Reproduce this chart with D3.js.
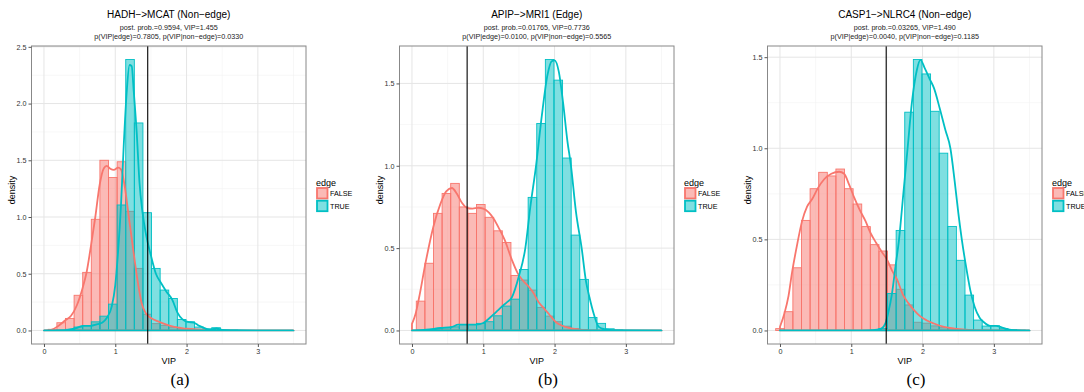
<!DOCTYPE html>
<html>
<head>
<meta charset="utf-8">
<script type="text/javascript" src="https://d3js.org/d3.v7.min.js"></script>
<style>
  body { margin: 0; background: #fff; }
  svg { display: block; font-family: "Liberation Sans", Arial, sans-serif; }
</style>
</head>
<body>
<svg width="1084" height="392"></svg>
<script type="text/javascript">
// ---- data ----
const titles = ["HADH\u2212>MCAT (Non\u2212edge)", "APIP\u2212>MRI1 (Edge)", "CASP1\u2212>NLRC4 (Non\u2212edge)"];
const subLine1 = ["post. prob.=0.9594, VIP=1.455", "post. prob.=0.01765, VIP=0.7736", "post. prob.=0.03265, VIP=1.490"];
const subLine2 = ["p(VIP|edge)=0.7805, p(VIP|non\u2212edge)=0.0330",
                  "p(VIP|edge)=0.0100, p(VIP|non\u2212edge)=0.5565",
                  "p(VIP|edge)=0.0040, p(VIP|non\u2212edge)=0.1185"];
const captions = ["(a)", "(b)", "(c)"];
const vipValues = [1.455, 0.7736, 1.490];
const xTicks = [0, 1, 2, 3];
const yTicksA = [0, 0.5, 1, 1.5, 2, 2.5];
const yTicksB = [0, 0.5, 1, 1.5];
const yTicksC = [0, 0.5, 1, 1.5];
const groups = ["FALSE", "TRUE"];

// 30 bins over [0, 3.5] (bin centres)
const binWidth = 3.5 / 29;
const binCenters = d3.range(30).map(k => k * binWidth);

// histogram densities, one value per bin
const histFalseA = [0, 0.01, 0.068, 0.106, 0.31, 0.512, 0.98, 1.5, 1.348, 1.487, 1.05, 0.547, 0.143, 0.06, 0.045, 0.03, 0.015, 0.01, 0.005, 0.004, 0.002, 0, 0, 0, 0, 0, 0, 0, 0, 0];
const histTrueA  = [0, 0.002, 0.005, 0.01, 0.03, 0.044, 0.076, 0.126, 0.232, 1.106, 2.388, 1.829, 1.038, 0.547, 0.356, 0.282, 0.097, 0.076, 0.03, 0.013, 0.024, 0.005, 0.003, 0, 0, 0, 0, 0, 0, 0];
const histFalseB = [0, 0.178, 0.408, 0.711, 0.832, 0.893, 0.75, 0.711, 0.765, 0.687, 0.605, 0.534, 0.334, 0.306, 0.245, 0.14, 0.087, 0.053, 0.026, 0.012, 0.005, 0.002, 0, 0, 0, 0, 0, 0, 0, 0];
const histTrueB  = [0, 0.003, 0.005, 0.01, 0.016, 0.022, 0.036, 0.036, 0.043, 0.053, 0.089, 0.148, 0.19, 0.37, 0.808, 1.257, 1.645, 1.52, 1.047, 0.579, 0.31, 0.079, 0.043, 0.01, 0.003, 0, 0, 0, 0, 0];
const histFalseC = [0.01, 0.103, 0.344, 0.604, 0.778, 0.868, 0.848, 0.886, 0.778, 0.694, 0.57, 0.471, 0.436, 0.36, 0.226, 0.14, 0.045, 0.04, 0.025, 0.015, 0.01, 0.005, 0.003, 0, 0, 0, 0, 0, 0, 0];
const histTrueC  = [0, 0, 0, 0, 0, 0, 0, 0, 0, 0, 0, 0.003, 0.01, 0.203, 0.549, 1.198, 1.487, 1.408, 1.203, 0.973, 0.571, 0.385, 0.194, 0.057, 0.024, 0.026, 0.01, 0.005, 0.002, 0];

// kernel density curves, [VIP, density]
const densFalseA = [[0,0],[0.1,0.005],[0.2,0.04],[0.3,0.09],[0.38,0.13],[0.46,0.22],[0.54,0.37],[0.6,0.52],[0.66,0.75],[0.72,1.0],[0.78,1.28],[0.84,1.43],[0.88,1.45],[0.93,1.425],[0.98,1.415],[1.04,1.435],[1.08,1.42],[1.13,1.28],[1.19,1.0],[1.25,0.72],[1.31,0.45],[1.37,0.24],[1.43,0.15],[1.5,0.11],[1.6,0.08],[1.7,0.055],[1.8,0.035],[1.9,0.025],[2.0,0.015],[2.2,0.008],[2.4,0.003],[2.6,0],[3.5,0]];
const densTrueA  = [[0,0],[0.3,0.003],[0.45,0.02],[0.55,0.04],[0.65,0.04],[0.75,0.055],[0.82,0.07],[0.88,0.11],[0.95,0.21],[1.0,0.4],[1.04,0.7],[1.08,1.1],[1.12,1.65],[1.16,2.1],[1.2,2.34],[1.23,2.33],[1.26,2.1],[1.3,1.75],[1.34,1.3],[1.38,1.05],[1.43,0.85],[1.5,0.66],[1.57,0.5],[1.64,0.42],[1.72,0.34],[1.8,0.27],[1.87,0.16],[1.94,0.1],[2.02,0.075],[2.1,0.07],[2.18,0.04],[2.28,0.015],[2.35,0.01],[2.42,0.018],[2.5,0.005],[2.7,0.002],[3.5,0]];
const densFalseB = [[0,0.04],[0.05,0.1],[0.1,0.2],[0.19,0.41],[0.3,0.63],[0.4,0.77],[0.48,0.845],[0.56,0.865],[0.63,0.83],[0.7,0.775],[0.77,0.745],[0.85,0.74],[0.93,0.745],[1.0,0.74],[1.08,0.715],[1.15,0.675],[1.22,0.62],[1.3,0.55],[1.4,0.43],[1.48,0.35],[1.56,0.3],[1.63,0.27],[1.7,0.23],[1.78,0.17],[1.86,0.13],[1.92,0.1],[2.02,0.05],[2.1,0.03],[2.2,0.015],[2.35,0.005],[2.5,0.001],[3.5,0]];
const densTrueB  = [[0,0],[0.2,0.005],[0.4,0.015],[0.55,0.02],[0.65,0.035],[0.75,0.035],[0.9,0.035],[1.0,0.045],[1.1,0.08],[1.2,0.12],[1.26,0.145],[1.33,0.17],[1.4,0.2],[1.5,0.33],[1.59,0.5],[1.66,0.75],[1.74,1.0],[1.82,1.3],[1.9,1.55],[1.96,1.635],[2.0,1.64],[2.06,1.57],[2.12,1.38],[2.18,1.15],[2.23,1.0],[2.3,0.72],[2.38,0.5],[2.44,0.3],[2.49,0.2],[2.55,0.1],[2.62,0.022],[2.7,0.008],[2.85,0.002],[3.5,0]];
const densFalseC = [[0,0.02],[0.06,0.09],[0.12,0.19],[0.17,0.32],[0.24,0.47],[0.31,0.6],[0.38,0.68],[0.45,0.72],[0.53,0.78],[0.62,0.83],[0.72,0.86],[0.83,0.871],[0.9,0.86],[0.97,0.8],[1.04,0.73],[1.12,0.66],[1.2,0.6],[1.27,0.535],[1.35,0.48],[1.43,0.43],[1.5,0.39],[1.57,0.33],[1.645,0.277],[1.72,0.2],[1.8,0.15],[1.88,0.112],[1.96,0.08],[2.06,0.055],[2.16,0.038],[2.3,0.02],[2.45,0.01],[2.6,0.004],[2.8,0.001],[3.5,0]];
const densTrueC  = [[0,0],[1.0,0],[1.3,0.002],[1.42,0.01],[1.48,0.04],[1.52,0.1],[1.57,0.2],[1.62,0.35],[1.67,0.5],[1.73,0.75],[1.79,1.0],[1.85,1.25],[1.92,1.43],[1.97,1.485],[2.03,1.44],[2.1,1.38],[2.16,1.33],[2.24,1.22],[2.32,1.1],[2.39,1.0],[2.45,0.82],[2.5,0.65],[2.55,0.5],[2.61,0.35],[2.67,0.22],[2.73,0.13],[2.8,0.07],[2.86,0.045],[2.95,0.025],[3.03,0.025],[3.1,0.018],[3.2,0.006],[3.3,0.002],[3.5,0]];

const colors = {FALSE: "#F8766D", TRUE: "#00BFC4"};

const panels = [
  {hist: [histFalseA, histTrueA], dens: [densFalseA, densTrueA], yTicks: yTicksA},
  {hist: [histFalseB, histTrueB], dens: [densFalseB, densTrueB], yTicks: yTicksB},
  {hist: [histFalseC, histTrueC], dens: [densFalseC, densTrueC], yTicks: yTicksC}
];

const svg = d3.select("svg");
const offsets = [0, 368, 736];
const pTop = 46, pBottom = 344, pLeft = 31.5, pWidth = 274.5;

panels.forEach(function(p, i) {
  const g = svg.append("g").attr("transform", "translate(" + offsets[i] + ",0)");
  const x = d3.scaleLinear().domain([-0.175, 3.675]).range([pLeft, pLeft + pWidth]);
  let yMax = d3.max(p.hist.flat().concat(p.dens.flat().map(d => d[1])));
  const y = d3.scaleLinear().domain([-yMax * 0.05, yMax * 1.05]).range([pBottom, pTop]);
  const cx = pLeft + pWidth / 2;

  // grid
  const xMinor = [0.5, 1.5, 2.5, 3.5];
  const yMinor = p.yTicks.map(t => t + 0.25).filter(t => t < y.domain()[1]);
  g.selectAll(".gxm").data(xMinor).enter().append("line")
    .attr("x1", d => x(d)).attr("x2", d => x(d)).attr("y1", pTop).attr("y2", pBottom)
    .style("stroke", "#f2f2f2").style("stroke-width", 0.6);
  g.selectAll(".gym").data(yMinor).enter().append("line")
    .attr("y1", d => y(d)).attr("y2", d => y(d)).attr("x1", pLeft).attr("x2", pLeft + pWidth)
    .style("stroke", "#f2f2f2").style("stroke-width", 0.6);
  g.selectAll(".gx").data(xTicks).enter().append("line")
    .attr("x1", d => x(d)).attr("x2", d => x(d)).attr("y1", pTop).attr("y2", pBottom)
    .style("stroke", "#e5e5e5").style("stroke-width", 1);
  g.selectAll(".gy").data(p.yTicks).enter().append("line")
    .attr("y1", d => y(d)).attr("y2", d => y(d)).attr("x1", pLeft).attr("x2", pLeft + pWidth)
    .style("stroke", "#e5e5e5").style("stroke-width", 1);

  // histogram bars, FALSE then TRUE
  p.hist.forEach(function(vals, gi) {
    const col = colors[groups[gi]];
    g.append("g").selectAll("rect").data(vals).enter().append("rect")
      .attr("x", (d, k) => x(binCenters[k] - binWidth / 2))
      .attr("width", (d, k) => x(binCenters[k] + binWidth / 2) - x(binCenters[k] - binWidth / 2))
      .attr("y", d => y(d))
      .attr("height", d => y(0) - y(d))
      .style("fill", col).style("fill-opacity", 0.5)
      .style("stroke", col).style("stroke-width", 0.9);
  });

  // density outlines
  const line = d3.line().x(d => x(d[0])).y(d => y(d[1])).curve(d3.curveMonotoneX);
  p.dens.forEach(function(pts, gi) {
    const first = pts[0], last = pts[pts.length - 1];
    g.append("path")
      .attr("d", line(pts) + "L" + x(last[0]) + "," + y(0) + "L" + x(first[0]) + "," + y(0) + "Z")
      .style("fill", "none").style("stroke", colors[groups[gi]])
      .style("stroke-width", 1.8).style("stroke-linejoin", "round");
  });

  // observed VIP
  g.append("line")
    .attr("x1", x(vipValues[i])).attr("x2", x(vipValues[i]))
    .attr("y1", pTop).attr("y2", pBottom)
    .style("stroke", "#000").style("stroke-width", 1.1);

  // panel border
  g.append("rect").attr("x", pLeft).attr("y", pTop).attr("width", pWidth).attr("height", pBottom - pTop)
    .style("fill", "none").style("stroke", "#888").style("stroke-width", 1);

  // axes
  const xAxis = g.append("g").attr("transform", "translate(0," + pBottom + ")")
    .call(d3.axisBottom(x).tickValues(xTicks).tickFormat(d3.format("d")).tickSize(3).tickPadding(2));
  const yAxis = g.append("g").attr("transform", "translate(" + pLeft + ",0)")
    .call(d3.axisLeft(y).tickValues(p.yTicks).tickFormat(d3.format(".1f")).tickSize(3).tickPadding(2));
  [xAxis, yAxis].forEach(a => {
    a.select(".domain").remove();
    a.selectAll(".tick line").style("stroke", "#555");
    a.selectAll(".tick text").style("font-size", "7.2px").style("fill", "#333")
      .style("font-family", "Liberation Sans, Arial, sans-serif");
  });

  // titles
  g.append("text").attr("x", cx).attr("y", 17.5).attr("text-anchor", "middle")
    .style("font-size", "10px").text(titles[i]);
  g.append("text").attr("x", cx).attr("y", 29.5).attr("text-anchor", "middle")
    .style("font-size", "7.2px").style("fill", "#222").text(subLine1[i]);
  g.append("text").attr("x", cx).attr("y", 38.5).attr("text-anchor", "middle")
    .style("font-size", "7.2px").style("fill", "#222").text(subLine2[i]);
  g.append("text").attr("x", cx).attr("y", 363.5).attr("text-anchor", "middle")
    .style("font-size", "9px").text("VIP");
  g.append("text").attr("transform", "translate(15," + ((pTop + pBottom) / 2 - 5) + ") rotate(-90)")
    .attr("text-anchor", "middle").style("font-size", "9px").text("density");

  // legend
  const lx = 316;
  g.append("text").attr("x", lx).attr("y", 186).style("font-size", "9px").text("edge");
  groups.forEach(function(gr, gi) {
    const ky = 188 + gi * 12.7;
    g.append("rect").attr("x", lx + 1).attr("y", ky).attr("width", 10.5).attr("height", 10.5)
      .style("fill", colors[gr]).style("fill-opacity", 0.5)
      .style("stroke", colors[gr]).style("stroke-width", 1.8);
    g.append("text").attr("x", lx + 14).attr("y", ky + 8).style("font-size", "7.2px").text(gr);
  });

  // sub-figure caption
  g.append("text").attr("x", 180).attr("y", 385).attr("text-anchor", "middle")
    .style("font-family", "Liberation Serif, serif").style("font-size", "17px").text(captions[i]);
});
</script>
</body>
</html>
